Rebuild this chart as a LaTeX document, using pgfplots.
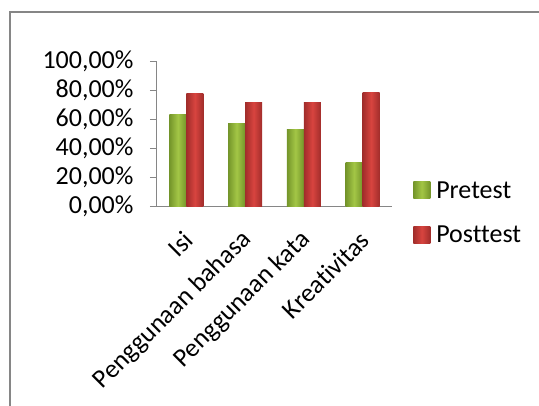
\documentclass[border=0pt]{standalone}
\usepackage{fontspec}
\setmainfont{Carlito}[Ligatures=NoCommon]
\usepackage{pgfplots}
\pgfplotsset{compat=1.18}

\definecolor{grn}{HTML}{A3C646}
\definecolor{grndk}{HTML}{74952A}
\definecolor{rd}{HTML}{D8443F}
\definecolor{rddk}{HTML}{A12D2B}
\definecolor{axgray}{HTML}{868686}

\pgfplotsset{
  pre/.style={ybar, bar width=17pt, bar shift=-8.5pt, draw=none,
    left color=grndk, right color=grndk, middle color=grn, forget plot},
  post/.style={ybar, bar width=17pt, bar shift=8.5pt, draw=none,
    left color=rddk, right color=rddk, middle color=rd, forget plot},
}

\begin{document}
\begin{tikzpicture}
  \useasboundingbox (0,0) rectangle (539pt,405pt);
  % chart frame, cut by the page edge
  \draw[axgray, line width=1.6pt] (10pt,-20pt) -- (10pt,393pt) -- (560pt,393pt);
  \begin{axis}[
      at={(157pt,199pt)}, anchor=south west,
      scale only axis,
      width=235pt, height=145pt,
      xmin=-0.5, xmax=3.5,
      ymin=0, ymax=100,
      axis x line*=bottom,
      axis y line*=left,
      axis line style={axgray, line width=1pt, -},
      every tick/.style={axgray, line width=1pt},
      tick align=outside,
      major tick length=7pt,
      minor tick length=7pt,
      ytick={0,20,40,60,80,100},
      yticklabels={{0,00\%},{20,00\%},{40,00\%},{60,00\%},{80,00\%},{100,00\%}},
      xtick={0,1,2,3},
      xticklabels={Isi,Penggunaan bahasa,Penggunaan kata,Kreativitas},
      x tick style={draw=none},
      minor xtick={-0.5,0.5,1.5,2.5,3.5},
      /pgf/number format/assume math mode=true,
      tick label style={font=\fontsize{26}{30}\selectfont},
      yticklabel style={xshift=-13pt},
      xticklabel style={xshift=3pt, yshift=-22pt, rotate=45, anchor=east, inner sep=1pt},
      legend style={
          at={(1.077,-0.045)}, anchor=west,
          draw=none, fill=none,
          font=\fontsize{26}{30}\selectfont,
          row sep=22pt,
          /tikz/every odd column/.append style={column sep=4pt},
      },
      legend cell align=left,
      legend image code/.code={
          \path[#1, draw=none] (0pt,-8.5pt) rectangle (17pt,8.5pt);
      },
    ]
    % Pretest
    \addplot[pre] coordinates {(0, 63.4)};
    \addplot[pre] coordinates {(1, 57.0)};
    \addplot[pre] coordinates {(2, 53.1)};
    \addplot[pre] coordinates {(3, 29.9)};
    % Posttest
    \addplot[post] coordinates {(0, 77.4)};
    \addplot[post] coordinates {(1, 71.7)};
    \addplot[post] coordinates {(2, 71.7)};
    \addplot[post] coordinates {(3, 78.1)};
    \addlegendimage{draw=none, left color=grndk, right color=grndk, middle color=grn}
    \addlegendentry{Pretest}
    \addlegendimage{draw=none, left color=rddk, right color=rddk, middle color=rd}
    \addlegendentry{Posttest}
  \end{axis}
\end{tikzpicture}
\end{document}
